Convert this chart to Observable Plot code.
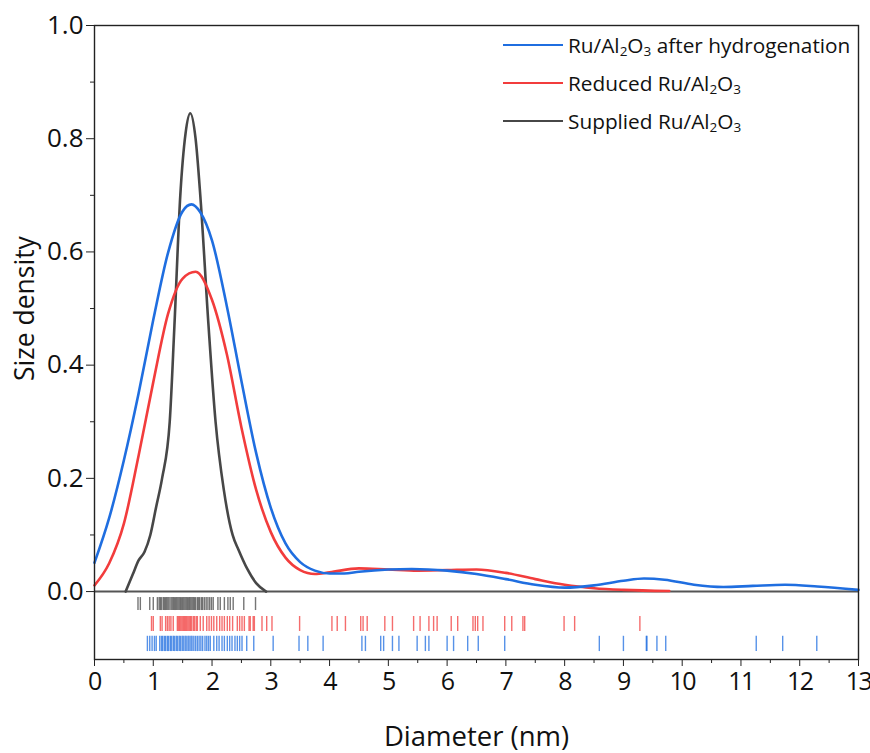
<!DOCTYPE html>
<html>
<head>
<meta charset="utf-8">
<script src="https://cdn.jsdelivr.net/npm/d3@7"></script>
<script src="https://cdn.jsdelivr.net/npm/@observablehq/plot@0.6"></script>
<style>
  html, body { margin: 0; padding: 0; background: #fff; }
  #wrap { position: relative; width: 870px; height: 753px; font-family: "Open Sans", sans-serif; }
  #legend { position: absolute; left: 503px; top: 26px; font-size: 20.8px; color: #111; }
  .item { display: flex; align-items: center; height: 38px; }
  .swatch { width: 60px; height: 0; border-top: 2.5px solid; margin-right: 5px; }
  sub { font-size: 0.65em; vertical-align: -0.25em; line-height: 0; }
  g[aria-label="x-axis tick label"] text { letter-spacing: -1.5px; }
</style>
</head>
<body>
<div id="wrap"></div>
<script>
// ---- tick labels ----
const xTicks = [0,1,2,3,4,5,6,7,8,9,10,11,12,13];
const xMinor = [0.5,1.5,2.5,3.5,4.5,5.5,6.5,7.5,8.5,9.5,10.5,11.5,12.5];
const yTicks = [0,0.2,0.4,0.6,0.8,1.0];
const yMinor = [0.1,0.3,0.5,0.7,0.9];

// ---- series names / colours ----
const seriesNames = ["Ru/Al2O3 after hydrogenation", "Reduced Ru/Al2O3", "Supplied Ru/Al2O3"];
const seriesColors = ["#1f6ee0", "#f23c3c", "#474747"];

// ---- density curves (diameter nm, density) ----
const blueD = [0,0.25,0.5,0.75,1.0,1.25,1.5,1.65,1.8,2.0,2.25,2.5,2.75,3.0,3.25,3.5,3.75,4.0,4.25,4.5,5.0,5.4,6.0,6.5,7.0,7.5,8.0,8.5,9.0,9.35,9.7,10.2,10.7,11.2,11.75,12.3,13];
const blueV = [0.051,0.13,0.232,0.35,0.48,0.598,0.672,0.684,0.67,0.62,0.505,0.372,0.245,0.148,0.085,0.052,0.037,0.032,0.032,0.035,0.039,0.040,0.037,0.031,0.022,0.012,0.007,0.011,0.019,0.023,0.021,0.012,0.008,0.010,0.012,0.009,0.003];

const redD = [0,0.25,0.5,0.75,1.0,1.25,1.5,1.72,2.0,2.25,2.5,2.75,3.0,3.25,3.5,3.75,4.0,4.5,5.0,5.5,6.0,6.5,7.0,7.5,8.0,8.5,9.0,9.78];
const redV = [0.011,0.05,0.12,0.24,0.37,0.49,0.553,0.565,0.515,0.42,0.29,0.18,0.105,0.06,0.038,0.031,0.034,0.041,0.039,0.037,0.038,0.039,0.033,0.022,0.012,0.006,0.003,0.001];

const blackD = [0.53,0.65,0.75,0.85,0.95,1.05,1.15,1.28,1.36,1.46,1.55,1.63,1.72,1.8,1.94,2.06,2.2,2.35,2.45,2.6,2.75,2.92];
const blackV = [0,0.03,0.055,0.07,0.1,0.15,0.2,0.3,0.47,0.7,0.81,0.845,0.8,0.7,0.47,0.3,0.18,0.1,0.074,0.04,0.015,0];

// ---- rug (individual particle diameters, nm) ----
const blackRug = [0.74,0.78,0.94,1.0,1.07,1.1,1.12,1.14,1.17,1.19,1.21,1.23,1.25,1.27,1.3,1.32,1.34,1.36,1.38,1.4,1.42,1.44,1.46,1.48,1.5,1.52,1.54,1.56,1.58,1.6,1.62,1.64,1.66,1.68,1.7,1.72,1.75,1.77,1.79,1.82,1.84,1.87,1.9,1.93,1.96,1.99,2.02,2.1,2.14,2.21,2.27,2.31,2.36,2.54,2.74];
const redRug = [0.97,1.0,1.12,1.15,1.21,1.24,1.27,1.3,1.34,1.41,1.43,1.45,1.47,1.49,1.51,1.53,1.55,1.57,1.59,1.61,1.63,1.65,1.68,1.7,1.73,1.75,1.8,1.85,1.91,1.95,1.99,2.03,2.08,2.13,2.17,2.21,2.26,2.3,2.35,2.43,2.47,2.51,2.55,2.63,2.65,2.7,2.72,2.85,2.93,3.02,3.49,4.04,4.13,4.27,4.53,4.57,4.64,4.94,5.07,5.43,5.54,5.69,5.77,5.83,6.07,6.18,6.44,6.48,6.52,6.61,6.98,7.1,7.29,7.32,7.99,8.17,9.28];
const blueRug = [0.9,0.94,0.98,1.02,1.05,1.11,1.14,1.16,1.19,1.21,1.24,1.26,1.29,1.31,1.34,1.36,1.39,1.41,1.44,1.46,1.49,1.51,1.54,1.56,1.59,1.61,1.64,1.66,1.69,1.72,1.75,1.78,1.81,1.84,1.88,1.91,1.94,1.97,2.03,2.08,2.12,2.17,2.21,2.26,2.3,2.34,2.39,2.43,2.47,2.51,2.59,2.71,3.04,3.48,3.63,3.89,4.55,4.61,4.87,4.92,5.07,5.18,5.49,5.63,5.69,6.0,6.11,6.35,6.53,6.98,8.59,9.0,9.39,9.4,9.57,9.72,11.26,11.71,12.29];

// rug rows, in density units below the zero line
const rugTop = [-0.0106, -0.044, -0.079];
const rugBottom = [-0.0335, -0.0705, -0.106];

const toPts = (D, V) => D.map((d, i) => ({d, v: V[i]}));
const curves = [toPts(blueD, blueV), toPts(redD, redV), toPts(blackD, blackV)];
const rugs = [blackRug, redRug, blueRug];
const rugColors = [seriesColors[2], seriesColors[1], seriesColors[0]];

const font = "Open Sans, sans-serif";

const chart = Plot.plot({
  width: 870,
  height: 753,
  marginLeft: 94,
  marginRight: 12,
  marginTop: 25,
  marginBottom: 94,
  style: {fontFamily: font, color: "#111", background: "#fff"},
  x: {domain: [0, 13]},
  y: {domain: [-0.12, 1.0]},
  marks: [
    // rug
    ...rugs.map((r, i) => Plot.ruleX(r, {x: d => d, y1: rugTop[i], y2: rugBottom[i], stroke: rugColors[i], strokeOpacity: 0.75, strokeWidth: 1.4})),
    // zero line
    Plot.ruleY([0], {stroke: "#555", strokeWidth: 2}),
    // density curves
    Plot.line(curves[2], {x: "d", y: "v", stroke: seriesColors[2], strokeWidth: 2.6, curve: "monotone-x"}),
    Plot.line(curves[1], {x: "d", y: "v", stroke: seriesColors[1], strokeWidth: 2.6, curve: "monotone-x"}),
    Plot.line(curves[0], {x: "d", y: "v", stroke: seriesColors[0], strokeWidth: 2.6, curve: "monotone-x"}),
    Plot.frame({stroke: "#222", strokeWidth: 1.4}),
    // axes
    Plot.axisX({ticks: xTicks, tickSize: 7, tickPadding: 6, fontSize: 25, label: null, tickFormat: d => String(d), stroke: "#222"}),
    Plot.axisX({ticks: xMinor, tickSize: 4, tickFormat: () => "", label: null, stroke: "#222"}),
    Plot.axisY({ticks: yTicks, tickSize: 8, tickPadding: 3, fontSize: 26, label: null, tickFormat: d => d.toFixed(1), stroke: "#222"}),
    Plot.axisY({ticks: yMinor, tickSize: 4, tickFormat: () => "", label: null, stroke: "#222"}),
    // x-axis title
    Plot.text(["Diameter (nm)"], {frameAnchor: "bottom", dy: 78, fontSize: 27.5, textAnchor: "middle", lineAnchor: "middle", fill: "#111"}),
    // y-axis title, centred on the 0–1 density range
    Plot.text(["Size density"], {frameAnchor: "left", y: 0.5, dx: -69, rotate: -90, fontSize: 26.5, textAnchor: "middle", lineAnchor: "middle", fill: "#111"})
  ]
});

const wrap = document.getElementById("wrap");
wrap.appendChild(chart);

// legend (inside plot area, top-right)
const legend = document.createElement("div");
legend.id = "legend";
const legendHTML = [
  "Ru/Al<sub>2</sub>O<sub>3</sub> after hydrogenation",
  "Reduced Ru/Al<sub>2</sub>O<sub>3</sub>",
  "Supplied Ru/Al<sub>2</sub>O<sub>3</sub>"
];
legendHTML.forEach((h, i) => {
  const it = document.createElement("div");
  it.className = "item";
  it.innerHTML = `<div class="swatch" style="border-color:${seriesColors[i]}"></div><span>${h}</span>`;
  legend.appendChild(it);
});
wrap.appendChild(legend);
</script>
</body>
</html>
